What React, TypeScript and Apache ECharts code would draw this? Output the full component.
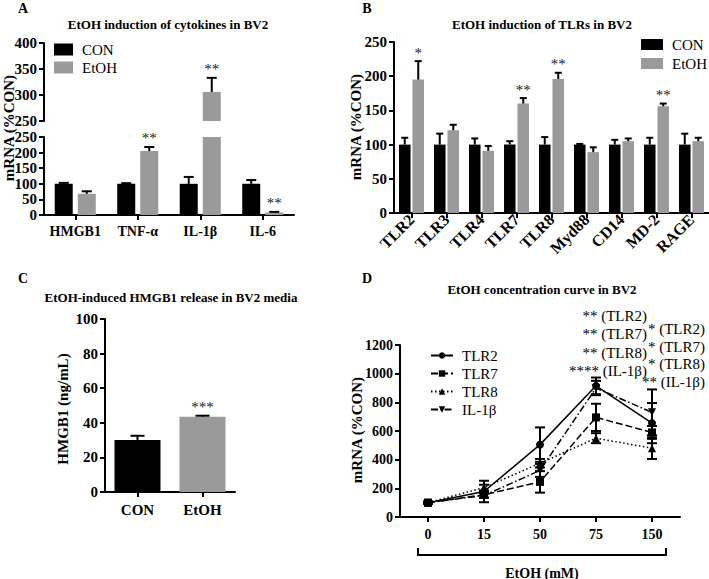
import React, { useEffect, useRef } from 'react';
import * as echarts from 'echarts';

const FONT = "'Liberation Serif', serif";
const BLACK = '#000000';
const GREY = '#9a9a9a';

// Panel A
const groups = ['CON', 'EtOH'];
const cytokines = ['HMGB1', 'TNF-α', 'IL-1β', 'IL-6'];
const cytoCon = [100, 100, 100, 100];
const cytoConErr = [3, 2, 22, 12];
const cytoEtoh = [68, 205, 306, 8];
const cytoEtohErr = [8, 13, 27, 2];
const cytoStars = ['', '**', '**', '**'];

// Panel B
const tlrs = ['TLR2', 'TLR3', 'TLR4', 'TLR7', 'TLR8', 'Myd88', 'CD14', 'MD-2', 'RAGE'];
const tlrCon = [100, 100, 100, 100, 100, 100, 100, 100, 100];
const tlrConErr = [10, 16, 9, 5, 11, 1, 7, 10, 16];
const tlrEtoh = [195, 121, 91, 160, 196, 89, 105, 156, 105];
const tlrEtohErr = [27, 8, 7, 8, 9, 7, 4, 4, 5];
const tlrStars = ['*', '', '', '**', '**', '', '', '**', ''];

// Panel C
const releaseGroups = ['CON', 'EtOH'];
const releaseVals = [30, 43.5];
const releaseErr = [2.5, 0.6];
const releaseStars = ['', '***'];

// Panel D
const doses = ['0', '15', '50', '75', '150'];
const curveNames = ['TLR2', 'TLR7', 'TLR8', 'IL-1β'];
const tlr2Curve = [100, 178, 505, 915, 655];
const tlr2Err = [6, 75, 120, 58, 140];
const tlr7Curve = [100, 155, 245, 695, 590];
const tlr7Err = [6, 20, 75, 95, 45];
const tlr8Curve = [100, 205, 375, 550, 480];
const tlr8Err = [6, 20, 30, 35, 75];
const il1bCurve = [100, 150, 325, 900, 730];
const il1bErr = [6, 15, 45, 50, 160];
const sigAt75 = ['** (TLR2)', '** (TLR7)', '** (TLR8)', '**** (IL-1β)'];
const sigAt150 = ['* (TLR2)', '* (TLR7)', '* (TLR8)', '** (IL-1β)'];

function txt(x: number, y: number, text: string, size: number, weight = 'bold', align = 'center', rotation = 0) {
  return {
    type: 'text',
    x,
    y,
    rotation,
    style: {
      text,
      fontFamily: FONT,
      fontSize: size,
      fontWeight: weight,
      fill: BLACK,
      align,
      verticalAlign: 'middle',
    },
  };
}

function yAxis(gridIndex: number, min: number, max: number, interval: number, fontSize: number) {
  return {
    type: 'value',
    gridIndex,
    min,
    max,
    interval,
    axisLine: { show: true, lineStyle: { color: BLACK, width: 2 } },
    axisTick: { show: true, length: 5, lineStyle: { color: BLACK, width: 2 } },
    splitLine: { show: false },
    axisLabel: {
      color: BLACK, fontFamily: FONT, fontWeight: 'bold', fontSize, margin: 7,
      formatter: (v: number) => String(v),
    },
  };
}

function xAxis(gridIndex: number, data: string[], fontSize: number, margin: number, extra: any = {}) {
  return {
    type: 'category',
    gridIndex,
    data,
    axisLine: { show: true, lineStyle: { color: BLACK, width: 2 } },
    axisTick: { show: true, alignWithLabel: true, length: 5, lineStyle: { color: BLACK, width: 2 } },
    splitLine: { show: false },
    axisLabel: { color: BLACK, fontFamily: FONT, fontWeight: 'bold', fontSize, margin, interval: 0, ...(extra.axisLabel || {}) },
    ...(extra.show === false ? { show: false } : {}),
  };
}

function errBars(
  axisIndex: number,
  vals: number[],
  errs: number[],
  stars: string[],
  offset: number,
  capHalf: number,
  keep: (v: number) => boolean,
  twoSided = false,
  starSize = 15
) {
  const data: number[][] = [];
  vals.forEach((v, i) => {
    if (keep(v)) data.push([i, v, errs[i]]);
  });
  return {
    type: 'custom',
    name: 'err',
    xAxisIndex: axisIndex,
    yAxisIndex: axisIndex,
    z: 5,
    itemStyle: { color: BLACK },
    data,
    renderItem: (params: any, api: any) => {
      const i = api.value(0);
      const v = api.value(1);
      const e = api.value(2);
      const pTop = api.coord([i, v + e]);
      const pBase = api.coord([i, twoSided ? v - e : v]);
      const x = pTop[0] + offset;
      const children: any[] = [
        { type: 'line', shape: { x1: x, y1: pBase[1], x2: x, y2: pTop[1] }, style: { stroke: BLACK, lineWidth: 2 } },
        { type: 'line', shape: { x1: x - capHalf, y1: pTop[1], x2: x + capHalf, y2: pTop[1] }, style: { stroke: BLACK, lineWidth: 2 } },
      ];
      if (twoSided) {
        children.push({ type: 'line', shape: { x1: x - capHalf, y1: pBase[1], x2: x + capHalf, y2: pBase[1] }, style: { stroke: BLACK, lineWidth: 2 } });
      }
      const s = stars[i];
      if (s) {
        children.push({
          type: 'text',
          x,
          y: pTop[1] - 1,
          style: {
            text: s,
            fontFamily: FONT,
            fontSize: starSize,
            fontWeight: 'normal',
            fill: '#1a1a1a',
            align: 'center',
            verticalAlign: 'bottom',
          },
        });
      }
      return { type: 'group', children };
    },
  };
}

export default function App() {
  const ref = useRef<HTMLDivElement>(null);
  useEffect(() => {
    document.body.style.margin = '0';
    if (!ref.current) return;
    const chart = echarts.init(ref.current, null, { renderer: 'svg' });

    const noStars = ['', '', '', '', '', '', '', '', ''];
    const dStyles: any[] = [
      { symbol: 'circle', type: 'solid' },
      { symbol: 'rect', type: [7, 3] },
      { symbol: 'triangle', type: [1.5, 2.5] },
      { symbol: 'path://M0,0L10,0L5,9Z', type: [7, 2.5, 1.5, 2.5] },
    ];
    const dVals = [tlr2Curve, tlr7Curve, tlr8Curve, il1bCurve];
    const dErrs = [tlr2Err, tlr7Err, tlr8Err, il1bErr];

    const legendText = { fontFamily: FONT, fontSize: 15, color: BLACK, padding: [0, 0, 0, 4] };

    const option: any = {
      animation: false,
      backgroundColor: '#ffffff',
      textStyle: { fontFamily: FONT },
      grid: [
        { left: 44, top: 43, width: 250, height: 78 },
        { left: 44, top: 137, width: 250, height: 78 },
        { left: 394, top: 42, width: 315, height: 171 },
        { left: 105, top: 319, width: 130, height: 173 },
        { left: 400, top: 345, width: 280, height: 172 },
      ],
      xAxis: [
        xAxis(0, cytokines, 14, 9, { show: false }),
        xAxis(1, cytokines, 14, 9),
        xAxis(2, tlrs, 16, 4, { axisLabel: { rotate: 45 } }),
        xAxis(3, releaseGroups, 15, 10),
        xAxis(4, doses, 14, 10),
      ],
      yAxis: [
        yAxis(0, 250, 400, 50, 15),
        yAxis(1, 0, 250, 50, 15),
        yAxis(2, 0, 250, 50, 15),
        yAxis(3, 0, 100, 20, 15),
        yAxis(4, 0, 1200, 200, 14),
      ],
      legend: [
        {
          data: groups, left: 54, top: 42, orient: 'vertical', icon: 'rect', itemWidth: 19, itemHeight: 12,
          itemGap: 3, padding: 0, selectedMode: false, textStyle: legendText,
        },
        {
          data: groups, left: 641, top: 37, orient: 'vertical', icon: 'rect', itemWidth: 22, itemHeight: 11,
          itemGap: 4, padding: 0, selectedMode: false, textStyle: legendText,
        },
        {
          data: curveNames, left: 430, top: 348, orient: 'vertical', itemWidth: 22, itemHeight: 8,
          itemGap: 3, padding: 0, selectedMode: false, textStyle: legendText,
        },
      ],
      series: [
        // Panel A upper (broken axis top segment)
        { type: 'bar', name: 'CON', xAxisIndex: 0, yAxisIndex: 0, barWidth: 18, barGap: '28%', itemStyle: { color: BLACK },
          data: cytoCon.map((v) => (v > 250 ? v : '-')) },
        { type: 'bar', name: 'EtOH', xAxisIndex: 0, yAxisIndex: 0, barWidth: 18, barGap: '28%', itemStyle: { color: GREY },
          data: cytoEtoh.map((v) => (v > 250 ? v : '-')) },
        // Panel A lower
        { type: 'bar', name: 'CON', xAxisIndex: 1, yAxisIndex: 1, barWidth: 18, barGap: '28%', itemStyle: { color: BLACK }, data: cytoCon },
        { type: 'bar', name: 'EtOH', xAxisIndex: 1, yAxisIndex: 1, barWidth: 18, barGap: '28%', itemStyle: { color: GREY }, data: cytoEtoh },
        errBars(1, cytoCon, cytoConErr, ['', '', '', ''], -11.5, 5, (v) => v <= 250),
        errBars(1, cytoEtoh, cytoEtohErr, cytoStars, 11.5, 5, (v) => v <= 250),
        errBars(0, cytoEtoh, cytoEtohErr, cytoStars, 11.5, 5, (v) => v > 250),
        // Panel B
        { type: 'bar', name: 'CON', xAxisIndex: 2, yAxisIndex: 2, barWidth: 11.5, barGap: '17%', itemStyle: { color: BLACK }, data: tlrCon },
        { type: 'bar', name: 'EtOH', xAxisIndex: 2, yAxisIndex: 2, barWidth: 11.5, barGap: '17%', itemStyle: { color: GREY }, data: tlrEtoh },
        errBars(2, tlrCon, tlrConErr, noStars, -6.75, 3.5, () => true),
        errBars(2, tlrEtoh, tlrEtohErr, tlrStars, 6.75, 3.5, () => true),
        // Panel C
        { type: 'bar', name: 'HMGB1 release', xAxisIndex: 3, yAxisIndex: 3, barWidth: 46,
          data: releaseVals.map((v, i) => ({ value: v, itemStyle: { color: i === 0 ? BLACK : GREY } })) },
        errBars(3, releaseVals, releaseErr, releaseStars, 0, 7, () => true),
        // Panel D
        ...curveNames.map((n, k) => ({
          type: 'line', name: n, xAxisIndex: 4, yAxisIndex: 4, data: dVals[k],
          symbol: dStyles[k].symbol, symbolSize: 8,
          itemStyle: { color: BLACK },
          lineStyle: { color: BLACK, width: 1.5, type: dStyles[k].type },
          z: 3,
        })),
        ...curveNames.map((n, k) => errBars(4, dVals[k], dErrs[k], ['', '', '', '', ''], 0, 5, () => true, true)),
      ],
      graphic: [
        txt(23, 8, 'A', 14),
        txt(367, 8, 'B', 14),
        txt(23, 278, 'C', 14),
        txt(367, 278, 'D', 14),
        txt(168, 24, 'EtOH induction of cytokines in BV2', 13),
        txt(542, 24, 'EtOH induction of TLRs in BV2', 13),
        txt(171, 297, 'EtOH-induced HMGB1 release in BV2 media', 13),
        txt(542, 289, 'EtOH concentration curve in BV2', 13),
        txt(9, 128, 'mRNA (%CON)', 15, 'bold', 'center', Math.PI / 2),
        txt(356, 127, 'mRNA (%CON)', 15, 'bold', 'center', Math.PI / 2),
        txt(63, 409, 'HMGB1 (ng/mL)', 15, 'bold', 'center', Math.PI / 2),
        txt(357, 430, 'mRNA (%CON)', 15, 'bold', 'center', Math.PI / 2),
        txt(542, 573, 'EtOH (mM)', 14),
        {
          type: 'polyline',
          shape: { points: [[418, 548], [418, 555], [666, 555], [666, 548]] },
          style: { stroke: BLACK, lineWidth: 2, fill: null },
        },
        ...sigAt75.map((s, i) => txt(647, 316 + i * 18.3, s, 15, 'normal', 'right')),
        ...sigAt150.map((s, i) => txt(705, 329 + i * 17.7, s, 15, 'normal', 'right')),
      ],
    };
    chart.setOption(option);
    return () => chart.dispose();
  }, []);
  return <div ref={ref} style={{ width: 709, height: 579 }} />;
}
